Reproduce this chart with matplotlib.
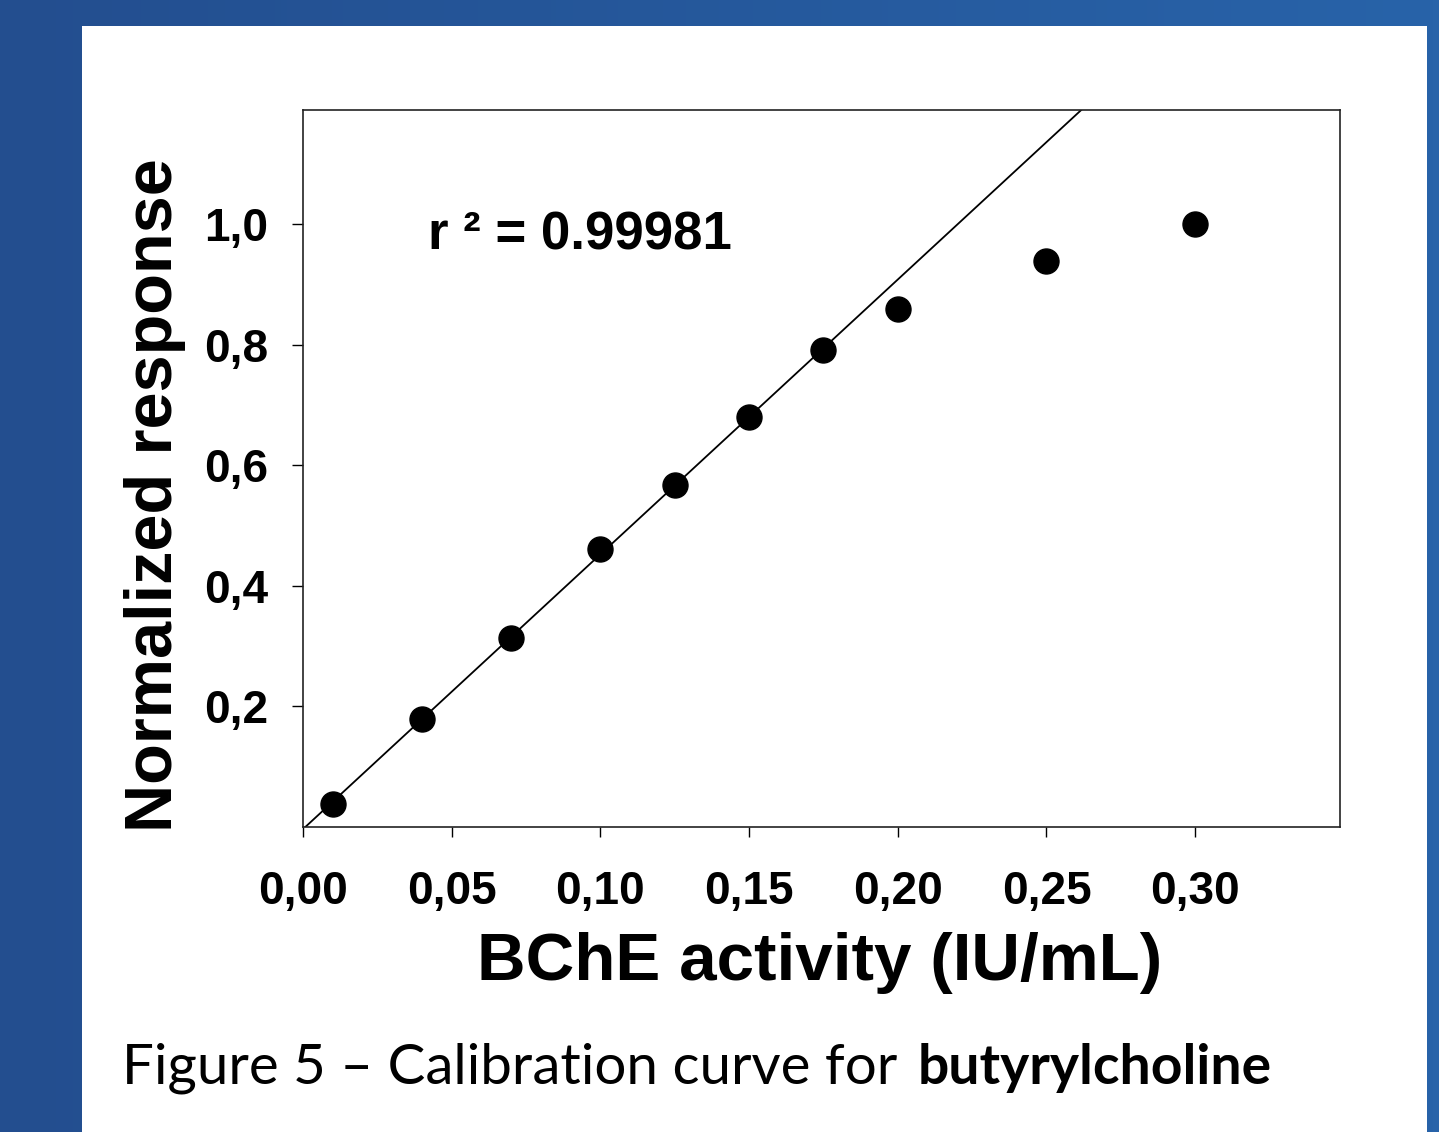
import matplotlib
matplotlib.use("Agg")
import matplotlib.pyplot as plt
import numpy as np
from matplotlib.colors import LinearSegmentedColormap
from matplotlib.patches import Rectangle

# calibration data
activity = [0.01, 0.04, 0.07, 0.10, 0.125, 0.15, 0.175, 0.20, 0.25, 0.30]
response = [0.039, 0.180, 0.313, 0.461, 0.567, 0.680, 0.791, 0.859, 0.939, 1.000]
n_linear = 7  # points used for the linear fit
r_squared = "0.99981"

x_ticks = [0.00, 0.05, 0.10, 0.15, 0.20, 0.25, 0.30]
y_ticks = [0.2, 0.4, 0.6, 0.8, 1.0]

W, H = 1439, 1132
fig = plt.figure(figsize=(W / 100, H / 100), dpi=100)

# blue slide background with white panel
bg = fig.add_axes([0, 0, 1, 1], zorder=-10)
bg.set_axis_off()
cmap = LinearSegmentedColormap.from_list("slide", ["#234e8f", "#2863a9"])
bg.imshow(np.linspace(0, 1, 256)[None, :], cmap=cmap, aspect="auto",
          extent=[0, 1, 0, 1])
bg.add_patch(Rectangle((82 / W, 0), (1427 - 82) / W, 1 - 26 / H,
                       facecolor="white", edgecolor="none"))
bg.set_xlim(0, 1)
bg.set_ylim(0, 1)

ax = fig.add_axes([303 / W, 1 - 827 / H, (1340 - 303) / W, (827 - 110) / H])
ax.set_facecolor("white")

slope, intercept = np.polyfit(activity[:n_linear], response[:n_linear], 1)
xs = np.array([0.0, 0.35])
ax.plot(xs, slope * xs + intercept, color="black", lw=1.3)
ax.plot(activity, response, "o", color="black", ms=18, zorder=3)

ax.set_xlim(0, 0.3487)
ax.set_ylim(0, 1.19)
ax.set_xticks(x_ticks)
ax.set_yticks(y_ticks)
ax.set_xticklabels([f"{v:.2f}".replace(".", ",") for v in x_ticks])
ax.set_yticklabels([f"{v:.1f}".replace(".", ",") for v in y_ticks])

lab_font = {"family": "Liberation Sans", "weight": "bold"}
for lab in ax.get_xticklabels() + ax.get_yticklabels():
    lab.set_fontfamily("Liberation Sans")
    lab.set_fontweight("bold")
    lab.set_fontsize(33)
ax.tick_params(axis="x", direction="out", length=7, width=1, pad=24)
ax.tick_params(axis="y", direction="out", length=8, width=1, pad=17)
for sp in ax.spines.values():
    sp.set_linewidth(1.2)
    sp.set_color("#222222")

ax.set_xlabel("BChE activity (IU/mL)", fontsize=48.5, **lab_font)
ax.set_ylabel("Normalized response", fontsize=48, **lab_font)
ax.xaxis.set_label_coords((820 - 303) / 1037, -(932 - 827) / 717)
ax.yaxis.set_label_coords((186 - 303) / 1037, (827 - 495) / 717)

ax.text(428 / W, 1 - 236 / H, "r ² = " + r_squared, transform=fig.transFigure,
        fontsize=38, va="center", ha="left", **lab_font)

# caption: normal part then bold part, sized to the slide's text width
cap_y = 1 - 1068 / H
renderer = fig.canvas.get_renderer()


def fit_text(x_px, text, width_px, **kw):
    t = fig.text(x_px / W, cap_y, text, fontsize=40, va="center", ha="left", **kw)
    w = t.get_window_extent(renderer).width
    t.set_fontsize(40 * width_px / w)
    return t


fit_text(122, "Figure 5 – Calibration curve for ", 790, family="Lato")
fit_text(918, "butyrylcholine", 354, family="Lato", weight="bold")

fig.savefig("out.png", dpi=100)
